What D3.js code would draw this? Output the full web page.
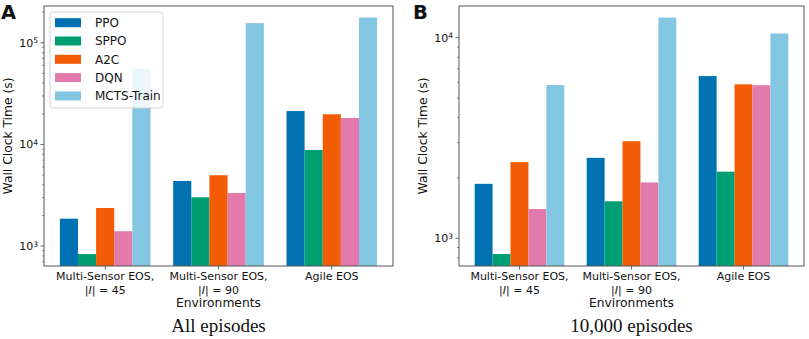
<!DOCTYPE html>
<html lang="en">
<head>
  <meta charset="UTF-8">
  <title>Wall clock time</title>
  <script src="https://d3js.org/d3.v7.min.js"></script>
  <style>
    body { margin: 0; background: #fff; }
    text { font-family: "DejaVu Sans", sans-serif; fill: #111; }
  </style>
</head>
<body>
  <svg id="chart"></svg>
  <script>
    // environments (two-line tick labels)
    const envLine1 = ["Multi-Sensor EOS,", "Multi-Sensor EOS,", "Agile EOS"];
    const envSize = ["45", "90", null];
    const algorithms = ["PPO", "SPPO", "A2C", "DQN", "MCTS-Train"];
    const colors = ["#0072b2", "#009e73", "#f25c05", "#e27bac", "#82c6e2"];

    // panel A: all episodes (seconds)
    const ppoAll = [1860, 4370, 21300];
    const sppoAll = [834, 3020, 8830];
    const a2cAll = [2370, 4980, 19800];
    const dqnAll = [1400, 3330, 18200];
    const mctsAll = [55500, 156000, 177000];

    // panel B: 10,000 episodes (seconds)
    const ppoTenK = [1870, 2520, 6440];
    const sppoTenK = [835, 1530, 2150];
    const a2cTenK = [2400, 3050, 5860];
    const dqnTenK = [1400, 1900, 5800];
    const mctsTenK = [5810, 12600, 10500];

    const width = 809, height = 339;
    const svg = d3.select("#chart").attr("width", width).attr("height", height);

    drawPanel({
      letter: "A", letterX: 1, caption: "All episodes",
      left: 44, right: 393, top: 6, bottom: 266,
      yDomain: [637, 230000], yTicks: [1e3, 1e4, 1e5],
      series: [ppoAll, sppoAll, a2cAll, dqnAll, mctsAll],
      legend: true
    });

    drawPanel({
      letter: "B", letterX: 413, caption: "10,000 episodes",
      left: 459, right: 804, top: 6, bottom: 266,
      yDomain: [728, 14400], yTicks: [1e3, 1e4],
      series: [ppoTenK, sppoTenK, a2cTenK, dqnTenK, mctsTenK],
      legend: false
    });

    function drawPanel(p) {
      const g = svg.append("g");
      const x = d3.scaleLinear().domain([-0.54, 2.54]).range([p.left, p.right]);
      const y = d3.scaleLog().domain(p.yDomain).range([p.bottom, p.top]);
      const barW = 0.16;

      p.series.forEach((vals, i) => {
        g.selectAll(null)
          .data(vals)
          .enter()
          .append("rect")
          .attr("x", (d, j) => x(j - 0.4 + i * barW))
          .attr("width", x(barW) - x(0))
          .attr("y", d => y(d))
          .attr("height", d => p.bottom - y(d))
          .attr("fill", colors[i]);
      });

      // minor log ticks
      const minor = [];
      const lo = Math.floor(Math.log10(p.yDomain[0])), hi = Math.ceil(Math.log10(p.yDomain[1]));
      for (let e = lo; e < hi; e++) {
        for (let m = 2; m <= 9; m++) {
          const v = m * Math.pow(10, e);
          if (v >= p.yDomain[0] && v <= p.yDomain[1]) minor.push(v);
        }
      }
      g.selectAll(null).data(minor).enter().append("line")
        .attr("x1", p.left - 2).attr("x2", p.left)
        .attr("y1", d => y(d)).attr("y2", d => y(d))
        .attr("stroke", "#444").attr("stroke-width", 0.6);

      // major y ticks
      const yt = g.selectAll(null).data(p.yTicks).enter().append("g")
        .attr("transform", d => `translate(0,${y(d)})`);
      yt.append("line").attr("x1", p.left - 3.5).attr("x2", p.left)
        .attr("stroke", "#444").attr("stroke-width", 0.8);
      const yl = yt.append("text")
        .attr("x", p.left - 6).attr("dy", "0.35em")
        .attr("text-anchor", "end").style("font-size", "11px");
      yl.append("tspan").text("10");
      yl.append("tspan").attr("dy", "-0.45em").style("font-size", "7.5px")
        .text(d => Math.round(Math.log10(d)));

      // x ticks
      const xt = g.selectAll(null).data(d3.range(envLine1.length)).enter().append("g")
        .attr("transform", j => `translate(${x(j)},${p.bottom})`);
      xt.append("line").attr("y2", 3.5).attr("stroke", "#444").attr("stroke-width", 0.8);
      xt.append("text").attr("y", 14).attr("text-anchor", "middle")
        .style("font-size", "11px").text(j => envLine1[j]);
      const second = xt.filter(j => envSize[j] !== null)
        .append("text").attr("y", 28).attr("text-anchor", "middle").style("font-size", "11px");
      second.append("tspan").text("|");
      second.append("tspan").style("font-style", "italic").text("I");
      second.append("tspan").text(j => "| = " + envSize[j]);

      // frame
      g.append("rect")
        .attr("x", p.left).attr("y", p.top)
        .attr("width", p.right - p.left).attr("height", p.bottom - p.top)
        .attr("fill", "none").attr("stroke", "#555").attr("stroke-width", 1);

      // axis titles
      const cx = (p.left + p.right) / 2;
      g.append("text").attr("x", cx).attr("y", 307).attr("text-anchor", "middle")
        .style("font-size", "12.3px").text("Environments");
      g.append("text")
        .attr("transform", `translate(${p.left - 32},${(p.top + p.bottom) / 2}) rotate(-90)`)
        .attr("text-anchor", "middle").style("font-size", "12.3px")
        .text("Wall Clock Time (s)");

      // caption
      g.append("text").attr("x", cx).attr("y", 332).attr("text-anchor", "middle")
        .style("font-family", "'Liberation Serif', 'DejaVu Serif', serif")
        .style("font-size", "19px").text(p.caption);

      // panel letter
      g.append("text").attr("x", p.letterX).attr("y", 19)
        .style("font-size", "19.5px").style("font-weight", "bold").text(p.letter);

      if (p.legend) {
        const lg = g.append("g").attr("transform", `translate(${p.left + 6},${p.top + 6})`);
        lg.append("rect").attr("width", 113).attr("height", 96).attr("rx", 3)
          .attr("fill", "#fff").attr("fill-opacity", 0.85)
          .attr("stroke", "#d4d4d4").attr("stroke-width", 1);
        const item = lg.selectAll(null).data(algorithms).enter().append("g")
          .attr("transform", (d, i) => `translate(5,${10.7 + i * 18.3})`);
        item.append("rect").attr("y", -4.5).attr("width", 26).attr("height", 9)
          .attr("fill", (d, i) => colors[i]);
        item.append("text").attr("x", 40).attr("dy", "0.35em")
          .style("font-size", "12px").text(d => d);
      }
    }
  </script>
</body>
</html>
